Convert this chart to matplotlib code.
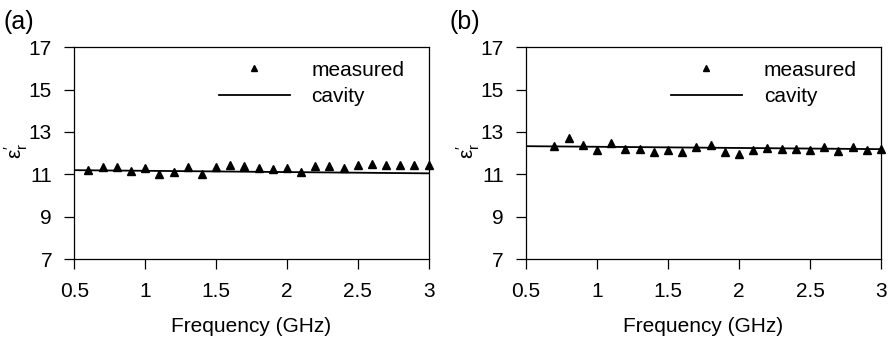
import matplotlib
matplotlib.use("Agg")
import matplotlib.pyplot as plt
import numpy as np

plt.rcParams["font.family"] = ["Liberation Sans", "DejaVu Sans"]
plt.rcParams["mathtext.fontset"] = "custom"
plt.rcParams["mathtext.rm"] = "Liberation Sans"
plt.rcParams["mathtext.it"] = "Liberation Sans"

# (a) measured points and cavity reference
freq_a = [0.6, 0.7, 0.8, 0.9, 1.0, 1.1, 1.2, 1.3, 1.4, 1.5, 1.6, 1.7, 1.8,
          1.9, 2.0, 2.1, 2.2, 2.3, 2.4, 2.5, 2.6, 2.7, 2.8, 2.9, 3.0]
eps_a = [11.20, 11.34, 11.33, 11.17, 11.28, 11.02, 11.12, 11.37, 11.02, 11.37,
         11.42, 11.39, 11.29, 11.26, 11.31, 11.12, 11.39, 11.39, 11.28, 11.43,
         11.48, 11.45, 11.43, 11.43, 11.43]
cavity_f_a = [0.5, 3.0]
cavity_a = [11.20, 11.05]

# (b)
freq_b = [0.7, 0.8, 0.9, 1.0, 1.1, 1.2, 1.3, 1.4, 1.5, 1.6, 1.7, 1.8, 1.9,
          2.0, 2.1, 2.2, 2.3, 2.4, 2.5, 2.6, 2.7, 2.8, 2.9, 3.0]
eps_b = [12.33, 12.73, 12.38, 12.14, 12.48, 12.22, 12.22, 12.06, 12.13, 12.06,
         12.27, 12.37, 12.06, 11.98, 12.17, 12.24, 12.22, 12.22, 12.17, 12.27,
         12.08, 12.29, 12.13, 12.19]
cavity_f_b = [0.5, 3.0]
cavity_b = [12.33, 12.19]

xticks = [0.5, 1, 1.5, 2, 2.5, 3]
xticklabels = ["0.5", "1", "1.5", "2", "2.5", "3"]
yticks = [7, 9, 11, 13, 15, 17]

FS = 15

fig = plt.figure(figsize=(8.94, 3.38), dpi=100)
ax_a = fig.add_axes([0.0831, 0.2328, 0.3964, 0.628])
ax_b = fig.add_axes([0.5884, 0.2328, 0.3970, 0.628])

panels = [(ax_a, freq_a, eps_a, cavity_f_a, cavity_a, "(a)", -0.2),
          (ax_b, freq_b, eps_b, cavity_f_b, cavity_b, "(b)", -0.215)]

for ax, f, e, cf, cv, tag, tag_x in panels:
    ax.plot(f, e, linestyle="none", marker="^", color="black",
            markersize=5.5, label="measured", clip_on=False, zorder=3)
    ax.plot(cf, cv, color="black", linewidth=1.3, label="cavity")
    ax.set_xlim(0.5, 3)
    ax.set_ylim(7, 17)
    ax.set_xticks(xticks)
    ax.set_xticklabels(xticklabels)
    ax.set_yticks(yticks)
    ax.tick_params(direction="out", length=7, width=0.9, labelsize=FS,
                   pad=9, top=False, right=False)
    for sp in ax.spines.values():
        sp.set_linewidth(0.9)
    ax.set_xlabel("Frequency (GHz)", fontsize=FS, labelpad=12)
    ax.set_ylabel(r"$\mathregular{\varepsilon_r^{\prime}}$", fontsize=15)
    ax.yaxis.set_label_coords(-0.125, 0.51)
    ax.legend(loc="upper right", bbox_to_anchor=(0.955, 0.975), frameon=False,
              fontsize=FS, handlelength=3.4, numpoints=1, borderaxespad=0,
              handletextpad=1.05, labelspacing=0.35, markerscale=0.8)
    ax.text(tag_x, 1.06, tag, transform=ax.transAxes, fontsize=18,
            ha="left", va="bottom")

fig.savefig("out.png", dpi=100)
